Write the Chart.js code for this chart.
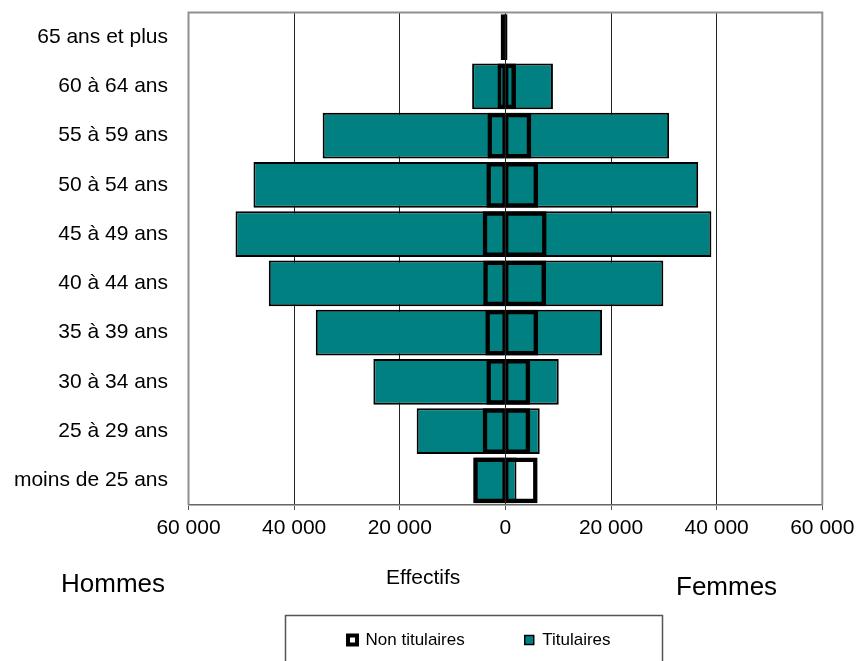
<!DOCTYPE html>
<html>
<head>
<meta charset="utf-8">
<script src="https://cdn.jsdelivr.net/npm/chart.js@4/dist/chart.umd.min.js"></script>
<style>
  html, body { margin: 0; padding: 0; background: #fff; }
  #wrap { position: relative; width: 856px; height: 661px; overflow: hidden; }
  canvas { position: absolute; left: 0; top: 0; }
  .lbl { position: absolute; white-space: nowrap; font-family: 'Liberation Sans', Arial, sans-serif; color: #000; }
</style>
</head>
<body>
<div id="wrap">
  <canvas id="c" width="856" height="661"></canvas>
  <div class="lbl" style="left:61px; top:570px; font-size:26px; line-height:26px;">Hommes</div>
  <div class="lbl" style="left:386px; top:566px; font-size:21px; line-height:21px;">Effectifs</div>
  <div class="lbl" style="left:676px; top:573px; font-size:26px; line-height:26px;">Femmes</div>
</div>
<script>
const categories = ['65 ans et plus','60 à 64 ans','55 à 59 ans','50 à 54 ans','45 à 49 ans','40 à 44 ans','35 à 39 ans','30 à 34 ans','25 à 29 ans','moins de 25 ans'];
const titulairesHommes    = [300, 6300, 34600, 47700, 51100, 44800, 35900, 25000, 16800, 5900];
const titulairesFemmes    = [200, 9000, 31000, 36500, 39000, 29900, 18300, 10100, 6500, 2100];
const nonTitulairesHommes = [900, 1500, 3400, 3600, 4300, 4200, 3800, 3600, 4300, 6100];
const nonTitulairesFemmes = [400, 2000, 4900, 6200, 7800, 7700, 6200, 4700, 4700, 6100];
const xTicks = [-60000, -40000, -20000, 0, 20000, 40000, 60000];

Chart.defaults.font.family = "'Liberation Sans', Arial, sans-serif";
Chart.defaults.color = '#000';

const BAR_P = 0.93;
const neg = a => a.map(v => -v);
const fmt = v => String(Math.abs(v)).replace(/\B(?=(\d{3})+(?!\d))/g, ' ');

const framePlugin = {
  id: 'frame',
  afterDraw(chart) {
    const a = chart.chartArea, ctx = chart.ctx;
    ctx.save();
    ctx.strokeStyle = '#909090';
    ctx.lineWidth = 2;
    ctx.beginPath();
    ctx.moveTo(a.left, a.bottom);
    ctx.lineTo(a.left, a.top);
    ctx.lineTo(a.right, a.top);
    ctx.lineTo(a.right, a.bottom);
    ctx.stroke();
    // legend frame
    ctx.strokeStyle = '#555';
    ctx.lineWidth = 1.5;
    ctx.strokeRect(285.5, 615.5, 377, 60);
    ctx.restore();
  }
};

const legendFitPlugin = {
  id: 'legendFit',
  beforeLayout(chart) {
    const lg = chart.legend;
    if (lg && !lg._patched) {
      const orig = lg.fit;
      lg.fit = function () { orig.call(this); this.height = 89.5; };
      lg._patched = true;
    }
  },
  afterLayout(chart) {
    const lg = chart.legend;
    if (lg) { lg.left = 136.3; lg.right = 822.3; lg.width = lg.right - lg.left; }
  }
};

new Chart(document.getElementById('c'), {
  type: 'bar',
  data: {
    labels: categories,
    datasets: [
      { label: 'Non titulaires', data: neg(nonTitulairesHommes), backgroundColor: 'rgba(0,0,0,0)', borderColor: '#000',
        borderWidth: { left: 4.5, right: 2.5, top: 4.5, bottom: 4.5 }, borderSkipped: false },
      { label: 'Non titulaires F', data: nonTitulairesFemmes, backgroundColor: 'rgba(0,0,0,0)', borderColor: '#000',
        borderWidth: { left: 2.5, right: 4.5, top: 4.5, bottom: 4.5 }, borderSkipped: false },
      { label: 'Titulaires', data: neg(titulairesHommes), backgroundColor: '#008080', borderColor: '#000',
        borderWidth: 2, borderSkipped: false },
      { label: 'Titulaires F', data: titulairesFemmes, backgroundColor: '#008080', borderColor: '#000',
        borderWidth: 2, borderSkipped: false }
    ].map(d => Object.assign(d, { grouped: false, barPercentage: BAR_P, categoryPercentage: 1 }))
  },
  options: {
    indexAxis: 'y',
    responsive: false,
    animation: false,
    devicePixelRatio: 1,
    layout: { padding: { left: 0, right: 33.7, top: 12, bottom: 0 } },
    scales: {
      x: {
        min: -60000, max: 60000,
        afterBuildTicks(scale) { scale.ticks = xTicks.map(v => ({ value: v })); },
        afterFit(scale) { scale.height = 66.5; },
        ticks: { callback: v => fmt(v), font: { size: 21, lineHeight: 1.7 }, padding: 0, maxRotation: 0, autoSkip: false },
        grid: { color: '#222', lineWidth: 1, tickLength: 5, tickColor: '#555', drawTicks: true },
        border: { display: true, color: '#666', width: 1.5 }
      },
      y: {
        afterFit(scale) { scale.width = 188.5; },
        ticks: { font: { size: 21 }, padding: 0, autoSkip: false },
        grid: { display: false, drawTicks: true, tickLength: 20.5 },
        border: { display: false }
      }
    },
    plugins: {
      tooltip: { enabled: false },
      legend: {
        position: 'bottom',
        labels: {
          font: { size: 17 },
          boxWidth: 9,
          boxHeight: 9,
          padding: 60,
          generateLabels(chart) {
            const items = Chart.defaults.plugins.legend.labels.generateLabels(chart);
            return items.filter(it => it.datasetIndex === 0 || it.datasetIndex === 2).map(it => {
              it.lineWidth = it.datasetIndex === 0 ? 4 : 1.5;
              return it;
            });
          }
        }
      }
    }
  },
  plugins: [legendFitPlugin, framePlugin]
});
</script>
</body>
</html>
